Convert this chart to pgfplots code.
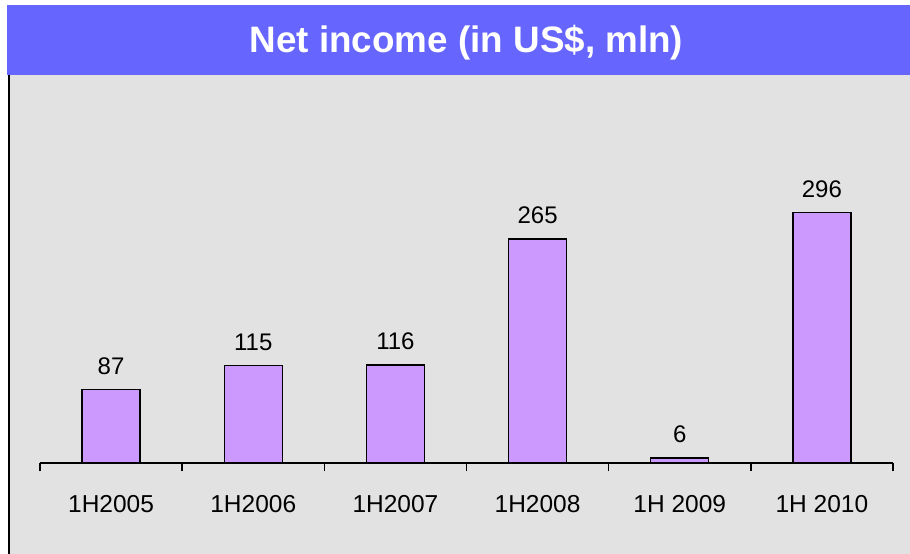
\documentclass[border=0pt]{standalone}
\usepackage{pgfplots}
\pgfplotsset{compat=1.18}
\usepackage{fontspec}
\setmainfont{Liberation Sans}
\definecolor{banner}{HTML}{6666FF}
\definecolor{barc}{HTML}{CC99FF}
\definecolor{bgc}{HTML}{E2E2E2}
\begin{document}
\begin{tikzpicture}
\path[use as bounding box, fill=white] (-40pt,-91pt) rectangle (870pt,463pt);
\fill[bgc] (-31pt,-91pt) rectangle (870pt,388pt);
\fill[banner] (-33pt,388pt) rectangle (870pt,458pt);
\draw[black, line width=1.6pt] (-31pt,388pt) -- (-31pt,-91pt);
\node[anchor=base, text=white, font=\fontsize{36.8}{40}\selectfont\bfseries, inner sep=0pt] at (426.5pt,410pt) {Net income (in US\$, mln)};
\begin{axis}[
  at={(0pt,0pt)}, anchor=south west,
  width=853pt, height=388pt, scale only axis,
  xmin=-0.5, xmax=5.5, ymin=0, ymax=459,
  hide y axis,
  axis x line*=bottom,
  x axis line style={line width=1.8pt, -},
  xtick={0,1,2,3,4,5},
  xticklabels={1H2005,1H2006,1H2007,1H2008,1H 2009,1H 2010},
  major tick length=0pt,
  xticklabel style={font=\fontsize{24.5}{28}\selectfont, anchor=base, yshift=-49pt, inner sep=0pt},
  extra x ticks={-0.5,0.5,1.5,2.5,3.5,4.5,5.5},
  extra x tick labels={},
  extra x tick style={tick align=outside, major tick length=8pt, tick style={line width=1.6pt, black}},
  ybar, bar width=58pt, bar shift=0pt,
  nodes near coords,
  /pgf/number format/assume math mode=true,
  every node near coord/.append style={font=\fontsize{24}{28}\selectfont, anchor=base, yshift=15pt, inner sep=0pt, text=black},
  clip=false,
]
\addplot[fill=barc, draw=black, line width=1.4pt] coordinates {(0,87) (1,115) (2,116) (3,265) (4,6) (5,296)};
\end{axis}
\end{tikzpicture}
\end{document}
